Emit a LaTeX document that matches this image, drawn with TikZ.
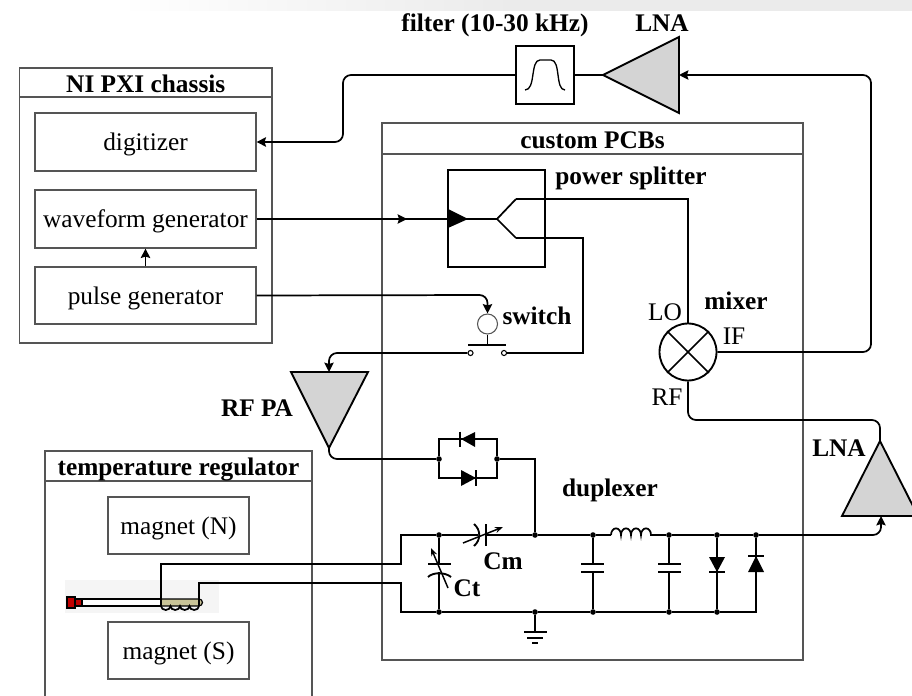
\documentclass[tikz,border=0pt]{standalone}
\usepackage{fontspec}
\setmainfont{Liberation Serif}
\usetikzlibrary{arrows.meta}
\definecolor{boxgray}{HTML}{555555}
\definecolor{ampgray}{HTML}{D4D4D4}
\definecolor{coilkhaki}{HTML}{C9C498}
\definecolor{probered}{HTML}{C00000}
\tikzset{
  wire/.style={line width=1.3pt,black},
  rwire/.style={wire,rounded corners=6pt},
  tip/.style={-{Stealth[length=7pt,width=7pt,inset=1pt]}},
  frame/.style={draw=boxgray,line width=0.9pt,inner sep=0pt,fill=none},
  pbox/.style n args={2}{minimum width=#1*0.75pt,minimum height=#2*0.75pt},
  instr/.style={frame,font=\fontsize{19}{19}\selectfont,text height=16pt,text depth=3.2pt},
  head/.style={frame,font=\fontsize{19}{19}\selectfont\bfseries,text height=16pt,text depth=1.5pt},
  lab/.style={inner sep=0pt,anchor=base,font=\fontsize{19}{19}\selectfont\bfseries},
  port/.style={inner sep=0pt,anchor=base,font=\fontsize{19}{19}\selectfont},
  dot/.style={circle,fill=black,inner sep=0pt,minimum size=4.2pt},
  contact/.style={circle,draw=black,fill=white,line width=0.8pt,inner sep=0pt,minimum size=3.8pt},
  amp/.style={draw=black,line width=1.4pt,fill=ampgray,line join=miter},
  plate/.style={line width=1.4pt,black},
  x=0.75pt,y=-0.75pt
}
\begin{document}
\begin{tikzpicture}
\useasboundingbox (0,0) rectangle (912,695);
\clip (0,0) rectangle (912,695);
% top band
\fill[left color=white,right color=black!8] (120,0) rectangle (520,11);
\fill[black!8] (520,0) rectangle (912,11);

% frames
\node[frame,pbox={252.5}{275}] (ni) at (145.75,205.5) {};
\node[head,pbox={252.5}{29}] (nihead) at (145.75,82.5) {NI PXI chassis};
\node[instr,pbox={221}{58}] (dig) at (145.5,142) {digitizer};
\node[instr,pbox={221}{58}] (wave) at (145.5,219) {waveform generator};
\node[instr,pbox={221}{57}] (pulse) at (145.5,295.5) {pulse generator};
\node[frame,pbox={421}{537}] (pcb) at (592.5,391.5) {};
\node[head,pbox={421}{31}] (pcbhead) at (592.5,138.5) {custom PCBs};
\node[frame,pbox={267}{270}] (temp) at (178.5,586) {};
\node[head,pbox={267}{30}] (temphead) at (178.5,466) {temperature regulator};
\node[instr,pbox={141}{57}] (magN) at (178.5,525.5) {magnet (N)};
\node[instr,pbox={141}{57}] (magS) at (178.5,650.5) {magnet (S)};

% probe
\fill[black!4] (65,580) rectangle (219,613);
\coordinate (coilL) at (161,606);
\coordinate (coilR) at (199,606);
\draw[black,line width=0.9pt,fill=coilkhaki] (161,599) -- (199,599) arc[start angle=90,end angle=-90,radius=2.6pt] -- (161,606) -- cycle;
\draw[black,line width=1.2pt,fill=white] (82,599) rectangle (161,606);
\draw[black,line width=0.8pt,fill=probered] (67,597) rectangle (75,608);
\draw[black,line width=0.8pt,fill=probered] (75,599) rectangle (82,606);
\draw[wire] (coilL) arc[start angle=180,end angle=360,x radius=3.56pt,y radius=3pt]
  arc[start angle=180,end angle=360,x radius=3.56pt,y radius=3pt]
  arc[start angle=180,end angle=360,x radius=3.56pt,y radius=3pt]
  arc[start angle=180,end angle=360,x radius=3.56pt,y radius=3pt];

% filter and top LNA
\node[draw=black,line width=1.2pt,inner sep=0pt,pbox={58}{58}] (filt) at (545,75) {};
\draw[line width=1pt] (525,90) .. controls (536,90) and (530,60) .. (540,60) -- (551,60) .. controls (561,60) and (555,90) .. (565,90);
\coordinate (lnaTin) at (679,75);
\coordinate (lnaTout) at (603,75);
\draw[amp] (lnaTout) -- (679,37) -- (679,113) -- cycle;

% RF PA
\coordinate (paIn) at (329,372);
\coordinate (paOut) at (329,448);
\draw[amp] (291,372) -- (368,372) -- (paOut) -- cycle;

% right LNA
\coordinate (lnaRin) at (881,516);
\coordinate (lnaRout) at (880,441);
\draw[amp] (lnaRout) -- (918,516) -- (842,516) -- cycle;

% splitter
\node[draw=black,line width=1.3pt,inner sep=0pt,pbox={97}{97}] (split) at (496.5,218.5) {};
\coordinate (splitIn) at (448,219);
\coordinate (fork) at (497,219);
\coordinate (forkU) at (516,199);
\coordinate (forkD) at (516,238);
\fill[black] (448,209) -- (468,219) -- (448,228) -- cycle;
\draw[wire] (splitIn) -- (fork) -- (forkU);
\draw[wire] (fork) -- (forkD);

% mixer
\node[circle,draw=black,line width=1.4pt,inner sep=0pt,minimum size=57*0.75pt] (mix) at (688,352) {};
\draw[wire] (mix.45) -- (mix.225);
\draw[wire] (mix.135) -- (mix.315);

% switch
\node[circle,draw=boxgray,line width=0.8pt,fill=white,inner sep=0pt,minimum size=20*0.75pt] (swc) at (487.5,324) {};
\node[contact] (swL) at (470.5,353) {};
\node[contact] (swR) at (504,353) {};
\coordinate (swbar) at (487.5,345);
\draw[plate] (468,345) -- (506,345);
\draw[wire] (swc) -- (swbar);

% junction dots
\node[dot] (jA) at (439,459) {};
\node[dot] (jB) at (497,459) {};
\node[dot] (t1) at (439,535) {};
\node[dot] (t2) at (535,535) {};
\node[dot] (t3) at (593,535) {};
\node[dot] (t4) at (669,535) {};
\node[dot] (t5) at (717,535) {};
\node[dot] (t6) at (756,535) {};
\node[dot] (b1) at (439,612) {};
\node[dot] (b2) at (535,612) {};
\node[dot] (b3) at (593,612) {};
\node[dot] (b4) at (669,612) {};
\node[dot] (b5) at (717,612) {};

% wires: signal path
\draw[rwire,tip] (filt.west) -- (343,75) -- (343,142) -- (dig.east);
\draw[wire] (filt.east) -- (lnaTout);
\draw[rwire,tip] (mix.east) -- (871,352) -- (871,75) -- (lnaTin);
\draw[wire,tip] (wave.east) -- (407,219);
\draw[wire] (wave.east) -- (splitIn);
\draw[wire,tip] (pulse.north) -- (wave.south);
\draw[rwire,tip] (pulse.east) -- (487.5,295) -- (swc.north);
\draw[wire] (forkU) -- (688,199) -- (mix.north);
\draw[wire] (forkD) -- (583,238) -- (583,353) -- (swR);
\draw[rwire,tip] (swL) -- (329,353) -- (paIn);
\draw[rwire] (paOut) -- (329,459) -- (jA);
\draw[rwire] (mix.south) -- (688,420) -- (880,420) -- (lnaRout);

% diode branches
\draw[wire] (jA) -- (439,439) -- (497,439) -- (jB);
\draw[wire] (jA) -- (439,478) -- (497,478) -- (jB);
\draw[wire] (jB) -- (535,459) -- (t2);
\fill[black] (475,432) -- (475,447) -- (461,439) -- cycle;
\draw[plate] (460,431.5) -- (460,447);
\fill[black] (461,470) -- (461,486) -- (476,478) -- cycle;
\draw[plate] (476,470) -- (476,486);

% duplexer rails
\draw[wire] (161,606) -- (161,564) -- (401,564) -- (401,535) -- (t1);
\draw[wire] (199,606) -- (199,583) -- (401,583) -- (401,612) -- (b1);
\draw[wire] (t1) -- (478,535);
\draw[wire] (486,535) -- (t2) -- (t3) -- (611,535);
\draw[wire] (611,535) arc[start angle=180,end angle=0,x radius=3.75pt,y radius=5pt]
  arc[start angle=180,end angle=0,x radius=3.75pt,y radius=5pt]
  arc[start angle=180,end angle=0,x radius=3.75pt,y radius=5pt]
  arc[start angle=180,end angle=0,x radius=3.75pt,y radius=5pt] -- (t4);
\draw[wire] (t4) -- (t5) -- (t6);
\draw[rwire,tip] (t6) -- (881,535) -- (lnaRin);
\draw[wire] (b1) -- (b2) -- (b3) -- (b4) -- (b5) -- (756,612) -- (t6);

% Ct
\draw[wire] (t1) -- (439,564);
\draw[wire] (439,572) -- (b1);
\draw[plate] (428,564) -- (451,564);
\draw[plate] (428,577) .. controls (433,572) and (445,572) .. (451,577);
\draw[line width=1.1pt,-{Stealth[length=6pt,width=4.5pt]}] (448,588) -- (431,548);
% Cm
\draw[plate] (474,524) .. controls (481,530) and (481,540) .. (474,546);
\draw[plate] (486,524) -- (486,546);
\draw[line width=1.1pt,-{Stealth[length=6pt,width=4.5pt]}] (463,543) -- (503,527);

% shunt C
\draw[wire] (t3) -- (593,564);
\draw[wire] (593,572) -- (b3);
\draw[plate] (581,564) -- (604,564);
\draw[plate] (581,572) -- (604,572);
\draw[wire] (t4) -- (669,564);
\draw[wire] (669,572) -- (b4);
\draw[plate] (658,564) -- (681,564);
\draw[plate] (658,572) -- (681,572);

% shunt diodes
\draw[wire] (t5) -- (b5);
\fill[black] (709,557) -- (725,557) -- (717,572) -- cycle;
\draw[plate] (709,572) -- (725,572);
\draw[wire] (t6) -- (756,612);
\fill[black] (748,572) -- (764,572) -- (756,556) -- cycle;
\draw[plate] (748,556) -- (764,556);

% ground
\coordinate (gnd) at (535,632);
\draw[wire] (b2) -- (gnd);
\draw[plate] (524,632) -- (547,632);
\draw[plate] (527,638) -- (543,638);
\draw[plate] (532,643) -- (538,643);

% labels
\node[lab] (lfilt) at (495,31.5) {filter (10-30 kHz)};
\node[lab] (llnaT) at (662,32) {LNA};
\node[lab] (lsplit) at (631,185) {power splitter};
\node[lab] (lsw) at (537,324) {switch};
\node[lab] (lmix) at (736,309) {mixer};
\node[lab] (lpa) at (257,416) {RF PA};
\node[lab] (llnaR) at (839,456) {LNA};
\node[lab] (ldup) at (610,496) {duplexer};
\node[lab] (lcm) at (503,569) {Cm};
\node[lab] (lct) at (467,596) {Ct};
\node[port] (llo) at (665,320) {LO};
\node[port] (lif) at (734,344) {IF};
\node[port] (lrf) at (667,405) {RF};
\end{tikzpicture}
\end{document}
